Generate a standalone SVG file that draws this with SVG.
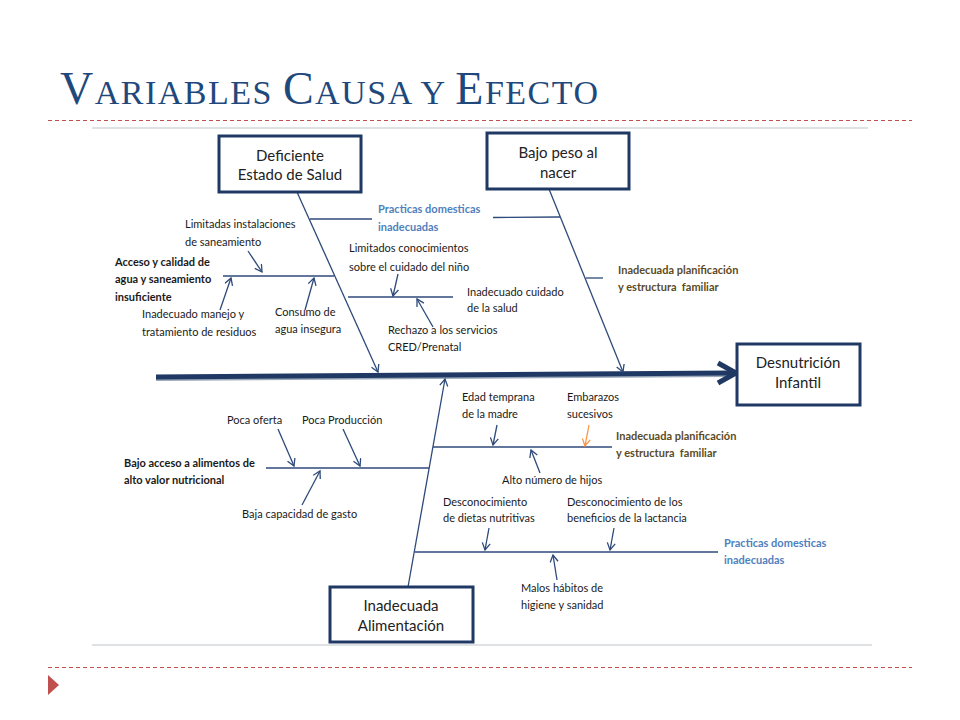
<svg xmlns="http://www.w3.org/2000/svg" width="960" height="720" viewBox="0 0 960 720">
<style>
  .title { font-family: "Liberation Serif", "DejaVu Serif", serif; fill: #1F497D; }
  .box { fill: #ffffff; stroke: #1F3864; stroke-width: 3; }
  .boxt { font-family: Lato, "Liberation Sans", sans-serif; font-size: 15px; fill: #222222; text-anchor: middle; }
  .lbl { font-family: Lato, "Liberation Sans", sans-serif; font-size: 11px; fill: #1a1a1a; }
  .bold { font-weight: bold; }
  .blue { fill: #4F81BD; font-weight: bold; }
  .olive { fill: #5b4a1f; font-weight: bold; }
  .bone { stroke: #2E4A7A; stroke-width: 1.3; fill: none; }
  .arr { stroke: #2E4A7A; stroke-width: 1.3; fill: none; marker-end: url(#ah); }
  .arro { stroke: #F79646; stroke-width: 1.3; fill: none; marker-end: url(#aho); }
  .dash { stroke: #C0504D; stroke-width: 1; stroke-dasharray: 4 3; }
  .frame { stroke: #d4d8dc; stroke-width: 1.5; }
</style>
<defs>
  <marker id="ah" markerUnits="userSpaceOnUse" markerWidth="10" markerHeight="10" refX="8" refY="4.5" orient="auto" viewBox="0 0 10 10">
    <path d="M1,0.5 L8,4.5 L1,8.5" fill="none" stroke="#2E4A7A" stroke-width="1.3"/>
  </marker>
  <marker id="aho" markerUnits="userSpaceOnUse" markerWidth="10" markerHeight="10" refX="8" refY="4.5" orient="auto" viewBox="0 0 10 10">
    <path d="M1,0.5 L8,4.5 L1,8.5" fill="none" stroke="#F79646" stroke-width="1.3"/>
  </marker>
</defs>
<rect x="0" y="0" width="960" height="720" fill="#ffffff"/>

<g id="title">
  <text class="title" x="60" y="104" textLength="538" lengthAdjust="spacing"><tspan font-size="46">V</tspan><tspan font-size="34">ARIABLES </tspan><tspan font-size="46">C</tspan><tspan font-size="34">AUSA Y </tspan><tspan font-size="46">E</tspan><tspan font-size="34">FECTO</tspan></text>
</g>

<g id="decor">
  <line class="dash" x1="48" y1="120.5" x2="912" y2="120.5"/>
  <line class="dash" x1="48" y1="667.5" x2="912" y2="667.5"/>
  <line class="frame" x1="92" y1="128" x2="868" y2="128"/>
  <line class="frame" x1="92" y1="645" x2="872" y2="645"/>
  <polygon points="48,675 59,685 48,695" fill="#C0504D"/>
</g>

<g id="connectors">
  <!-- spine -->
  <line x1="156" y1="380" x2="728" y2="376" stroke="#9aa8b8" stroke-width="2"/>
  <line x1="156" y1="377" x2="731" y2="373" stroke="#1F3864" stroke-width="5"/>
  <polyline points="718,363 736,373 718,383" fill="none" stroke="#1F3864" stroke-width="5" stroke-linejoin="miter"/>
  <!-- main bones -->
  <line class="arr" x1="297" y1="192" x2="378" y2="372"/>
  <line class="arr" x1="549" y1="189" x2="623" y2="372"/>
  <line class="arr" x1="408" y1="587" x2="445" y2="379"/>
  <!-- top branches -->
  <line class="bone" x1="310" y1="219" x2="372" y2="219"/>
  <line class="bone" x1="493" y1="217.5" x2="560" y2="217"/>
  <line class="bone" x1="223" y1="276" x2="334" y2="276"/>
  <line class="bone" x1="348" y1="297" x2="453" y2="297"/>
  <line class="bone" x1="586" y1="278" x2="603" y2="278"/>
  <!-- bottom branches -->
  <line class="bone" x1="266" y1="468" x2="429" y2="468"/>
  <line class="bone" x1="433" y1="447" x2="612" y2="447"/>
  <line class="bone" x1="415" y1="552" x2="718" y2="552"/>
  <!-- small arrows -->
  <line class="arr" x1="248" y1="251" x2="262" y2="272"/>
  <line class="arr" x1="220" y1="310" x2="231" y2="278"/>
  <line class="arr" x1="305" y1="310" x2="314" y2="278"/>
  <line class="arr" x1="398" y1="274" x2="393" y2="296"/>
  <line class="arr" x1="433" y1="327" x2="417" y2="299"/>
  <line class="arr" x1="278" y1="429" x2="294" y2="466"/>
  <line class="arr" x1="343" y1="429" x2="360" y2="466"/>
  <line class="arr" x1="302" y1="505" x2="320" y2="471"/>
  <line class="arr" x1="497" y1="425" x2="493" y2="445"/>
  <line class="arro" x1="589" y1="425" x2="585" y2="446"/>
  <line class="arr" x1="540" y1="473" x2="531" y2="450"/>
  <line class="arr" x1="489" y1="528" x2="485" y2="550"/>
  <line class="arr" x1="614" y1="528" x2="610" y2="550"/>
  <line class="arr" x1="557" y1="580" x2="553" y2="555"/>
</g>

<g id="node-deficiente">
  <rect class="box" x="219" y="136" width="142" height="56"/>
  <text class="boxt" x="290" y="161">Deficiente</text>
  <text class="boxt" x="290" y="180">Estado de Salud</text>
</g>
<g id="node-bajopeso">
  <rect class="box" x="487" y="133" width="142" height="56"/>
  <text class="boxt" x="558" y="158">Bajo peso al</text>
  <text class="boxt" x="558" y="178">nacer</text>
</g>
<g id="node-alimentacion">
  <rect class="box" x="330" y="587" width="143" height="55"/>
  <text class="boxt" x="401" y="611">Inadecuada</text>
  <text class="boxt" x="401" y="631">Alimentación</text>
</g>
<g id="node-desnutricion">
  <rect class="box" x="737" y="344" width="123" height="61"/>
  <text class="boxt" x="798" y="368">Desnutrición</text>
  <text class="boxt" x="798" y="388">Infantil</text>
</g>

<g id="labels-top">
  <text class="lbl blue" x="378" y="213">Practicas domesticas</text>
  <text class="lbl blue" x="378" y="231">inadecuadas</text>
  <text class="lbl" x="185" y="228">Limitadas instalaciones</text>
  <text class="lbl" x="185" y="246">de saneamiento</text>
  <text class="lbl bold" x="115" y="266">Acceso y calidad de</text>
  <text class="lbl bold" x="115" y="283">agua y saneamiento</text>
  <text class="lbl bold" x="115" y="301">insuficiente</text>
  <text class="lbl" x="142" y="318">Inadecuado manejo y</text>
  <text class="lbl" x="142" y="336">tratamiento de residuos</text>
  <text class="lbl" x="275" y="316">Consumo de</text>
  <text class="lbl" x="275" y="333">agua insegura</text>
  <text class="lbl" x="349" y="252">Limitados conocimientos</text>
  <text class="lbl" x="349" y="271">sobre el cuidado del niño</text>
  <text class="lbl" x="467" y="296">Inadecuado cuidado</text>
  <text class="lbl" x="467" y="312">de la salud</text>
  <text class="lbl" x="388" y="334">Rechazo a los servicios</text>
  <text class="lbl" x="388" y="351">CRED/Prenatal</text>
  <text class="lbl olive" x="618" y="274">Inadecuada planificación</text>
  <text class="lbl olive" x="618" y="291" xml:space="preserve">y estructura  familiar</text>
</g>

<g id="labels-bottom">
  <text class="lbl" x="227" y="424">Poca oferta</text>
  <text class="lbl" x="302" y="424">Poca Producción</text>
  <text class="lbl bold" x="124" y="467">Bajo acceso a alimentos de</text>
  <text class="lbl bold" x="124" y="484">alto valor nutricional</text>
  <text class="lbl" x="242" y="518">Baja capacidad de gasto</text>
  <text class="lbl" x="462" y="401">Edad temprana</text>
  <text class="lbl" x="462" y="418">de la madre</text>
  <text class="lbl" x="567" y="401">Embarazos</text>
  <text class="lbl" x="567" y="418">sucesivos</text>
  <text class="lbl olive" x="616" y="440">Inadecuada planificación</text>
  <text class="lbl olive" x="616" y="457" xml:space="preserve">y estructura  familiar</text>
  <text class="lbl" x="502" y="484">Alto número de hijos</text>
  <text class="lbl" x="443" y="506">Desconocimiento</text>
  <text class="lbl" x="443" y="522">de dietas nutritivas</text>
  <text class="lbl" x="567" y="506">Desconocimiento de los</text>
  <text class="lbl" x="567" y="522">beneficios de la lactancia</text>
  <text class="lbl blue" x="724" y="547">Practicas domesticas</text>
  <text class="lbl blue" x="724" y="564">inadecuadas</text>
  <text class="lbl" x="521" y="592">Malos hábitos de</text>
  <text class="lbl" x="521" y="609">higiene y sanidad</text>
</g>
</svg>
